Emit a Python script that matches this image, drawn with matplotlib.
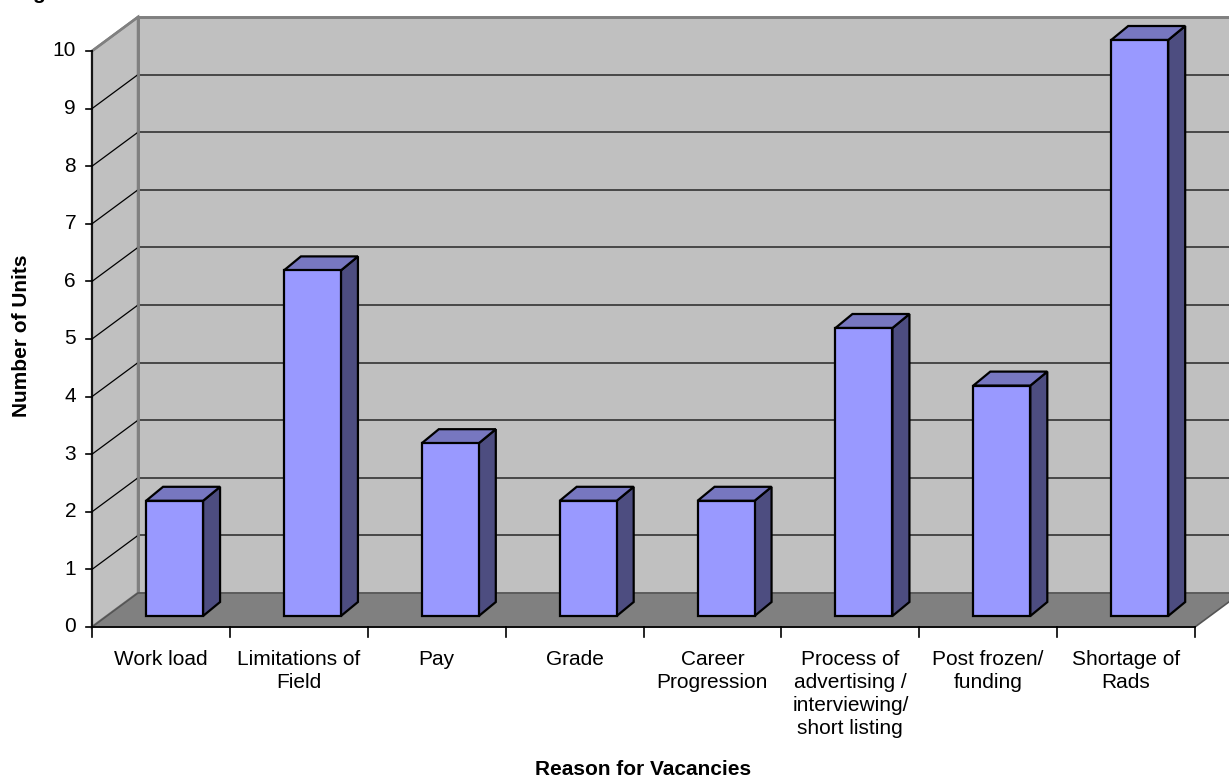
import matplotlib
matplotlib.use("Agg")
import matplotlib.pyplot as plt
from matplotlib.patches import Polygon

# data
categories = ["Work load", "Limitations of\nField", "Pay", "Grade", "Career\nProgression",
              "Process of\nadvertising /\ninterviewing/\nshort listing", "Post frozen/\nfunding",
              "Shortage of\nRads"]
values = [2, 6, 3, 2, 2, 5, 4, 10]
yticks = list(range(0, 11))

plt.rcParams['font.family'] = ['Liberation Sans', 'DejaVu Sans']

W, H = 1229, 778
fig = plt.figure(figsize=(W / 100, H / 100), dpi=100)
ax = fig.add_axes([0, 0, 1, 1])
ax.axis('off')

# pixel geometry of the front axes: x 92..1195 -> 0..8, y 627..51 -> 0..10
ncat = len(categories)
ymax = 10
x0px, x1px, y0px, y1px = 92, 1195, 627, 51
sx = (x1px - x0px) / ncat
sy = (y0px - y1px) / ymax
ax.set_xlim(-x0px / sx, (W - x0px) / sx)
ax.set_ylim(-(H - y0px) / sy, y0px / sy)

# 3D depth offsets (data units)
wdx, wdy = 46 / sx, 34 / sy      # wall depth
bx0, by0 = 15 / sx, 11 / sy      # bar placement inside depth
bdx, bdy = 17 / sx, 14 / sy      # bar depth
bw = 57 / sx

wall_c, floor_c, edge_c = '#C0C0C0', '#808080', '#808080'

# back wall, side wall, floor
ax.add_patch(Polygon([(wdx, wdy), (ncat + wdx + 2, wdy), (ncat + wdx + 2, ymax + wdy), (wdx, ymax + wdy)],
                     closed=True, fc=wall_c, ec=edge_c, lw=1.8, zorder=1))
ax.add_patch(Polygon([(0, 0), (wdx, wdy), (wdx, ymax + wdy), (0, ymax)],
                     closed=True, fc=wall_c, ec=edge_c, lw=1.8, zorder=1))
ax.add_patch(Polygon([(0, 0), (ncat, 0), (ncat + wdx, wdy), (wdx, wdy)],
                     closed=True, fc=floor_c, ec='#555555', lw=1.2, zorder=2))

# gridlines
for v in yticks[1:-1]:
    ax.plot([wdx, ncat + wdx + 2], [v + wdy, v + wdy], color='#333333', lw=1.2, zorder=1.5)
    ax.plot([0, wdx], [v, v + wdy], color='black', lw=0.9, zorder=1.5)
ax.plot([wdx, wdx], [wdy, ymax + wdy], color=edge_c, lw=2, zorder=1.6)
ax.plot([wdx, ncat + wdx + 2], [ymax + wdy, ymax + wdy], color=edge_c, lw=2, zorder=1.6)
ax.plot([0, wdx], [ymax, ymax + wdy], color=edge_c, lw=1.8, zorder=1.6)

# axes lines and ticks
ax.plot([0, 0], [0, ymax], color='black', lw=1.2, zorder=3)
ax.plot([0, ncat], [0, 0], color='black', lw=1.2, zorder=3)
for v in yticks:
    ax.plot([-6 / sx, 0], [v, v], color='black', lw=1.2, zorder=3)
    ax.text(-16 / sx, v, str(v), ha='right', va='center', fontsize=15)
for i in range(ncat + 1):
    ax.plot([i, i], [0, -10 / sy], color='black', lw=1.2, zorder=3)

# bars
for i, v in enumerate(values):
    left = i + 0.5 - bw / 2 + bx0 - 0.01
    right = left + bw
    base = by0
    top = by0 + v
    ax.add_patch(Polygon([(right, base), (right + bdx, base + bdy), (right + bdx, top + bdy), (right, top)],
                         closed=True, fc='#4D4D80', ec='black', lw=1.6, zorder=4))
    ax.add_patch(Polygon([(left, top), (right, top), (right + bdx, top + bdy), (left + bdx, top + bdy)],
                         closed=True, fc='#7777C0', ec='black', lw=1.6, zorder=4))
    ax.add_patch(Polygon([(left, base), (right, base), (right, top), (left, top)],
                         closed=True, fc='#9999FF', ec='black', lw=1.6, zorder=5))

# category labels
label_y = -(650 - y0px) / sy
for i, lab in enumerate(categories):
    ax.text(i + 0.5, label_y, lab, ha='center', va='top', fontsize=15, linespacing=1.27)

# axis titles
ax.text(ncat / 2, -(775 - y0px) / sy, "Reason for Vacancies", ha='center', va='baseline',
        fontsize=15, fontweight='bold')
ax.text(-(x0px - 22) / sx, (y0px - 336) / sy, "Number of Units", ha='center', va='center',
        rotation=90, fontsize=15, fontweight='bold')
# cut-off title fragment at the top
ax.text((39 - x0px) / sx, (y0px + 1) / sy, "g", ha='center', va='baseline', fontsize=15, fontweight='bold')

fig.savefig("out.png", dpi=100)
